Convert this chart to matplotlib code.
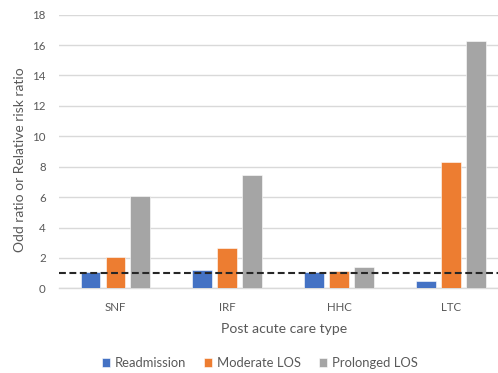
import matplotlib
matplotlib.use("Agg")
import matplotlib.pyplot as plt
import numpy as np

# Data
categories = ["SNF", "IRF", "HHC", "LTC"]
series_names = ["Readmission", "Moderate LOS", "Prolonged LOS"]
readmission = [1.05, 1.2, 1.07, 0.5]
moderate_los = [2.06, 2.65, 1.16, 8.29]
prolonged_los = [6.05, 7.45, 1.38, 16.3]
y_ticks = [0, 2, 4, 6, 8, 10, 12, 14, 16, 18]
reference_value = 1.0

colors = ["#4472C4", "#ED7D31", "#A5A5A5"]
text_color = "#595959"
grid_color = "#D9D9D9"

plt.rcParams["font.family"] = ["Lato", "DejaVu Sans"]

W, H = 498, 373
fig = plt.figure(figsize=(W / 100, H / 100), dpi=100)
left_px, right_px, top_px, bottom_px = 59.3, 507.0, 14.7, 288.3
ax = fig.add_axes([left_px / W, 1 - bottom_px / H,
                   (right_px - left_px) / W, (bottom_px - top_px) / H])

x = np.arange(len(categories))
bar_w = 0.174
step = 0.223
for i, (vals, name, c) in enumerate(zip([readmission, moderate_los, prolonged_los],
                                        series_names, colors)):
    ax.bar(x + (i - 1) * step, vals, width=bar_w, color=c, label=name,
           edgecolor="white", linewidth=0.4, zorder=3)

ax.axhline(reference_value, color="#262626", linewidth=1.5,
           dashes=(3.3, 1.7), zorder=4)

ax.set_xlim(-0.5, 3.5)
ax.set_ylim(0, 18)
ax.set_yticks(y_ticks)
ax.set_xticks(x)
ax.set_xticklabels(categories)
ax.yaxis.grid(True, color=grid_color, linewidth=1.0, zorder=0)
ax.set_axisbelow(True)
for s in ["top", "right", "left"]:
    ax.spines[s].set_visible(False)
ax.spines["bottom"].set_color(grid_color)
ax.spines["bottom"].set_linewidth(1.0)
ax.tick_params(axis="both", length=0, colors=text_color, labelsize=8.3)
ax.tick_params(axis="y", pad=9.8)
ax.tick_params(axis="x", pad=10.0)

fig.text(284 / W, 1 - 329 / H, "Post acute care type", ha="center", va="center",
         fontsize=10.1, color=text_color)
fig.text(20 / W, 1 - 160 / H, "Odd ratio or Relative risk ratio", ha="center",
         va="center", rotation=90, fontsize=10.0, color=text_color)

leg = fig.legend(loc="center", bbox_to_anchor=(260 / W, 1 - 363 / H), ncol=3,
                 frameon=False, fontsize=9.4, handlelength=0.62, handleheight=0.62,
                 handletextpad=0.38, columnspacing=1.35)
for t in leg.get_texts():
    t.set_color(text_color)

fig.savefig("out.png", dpi=100)
